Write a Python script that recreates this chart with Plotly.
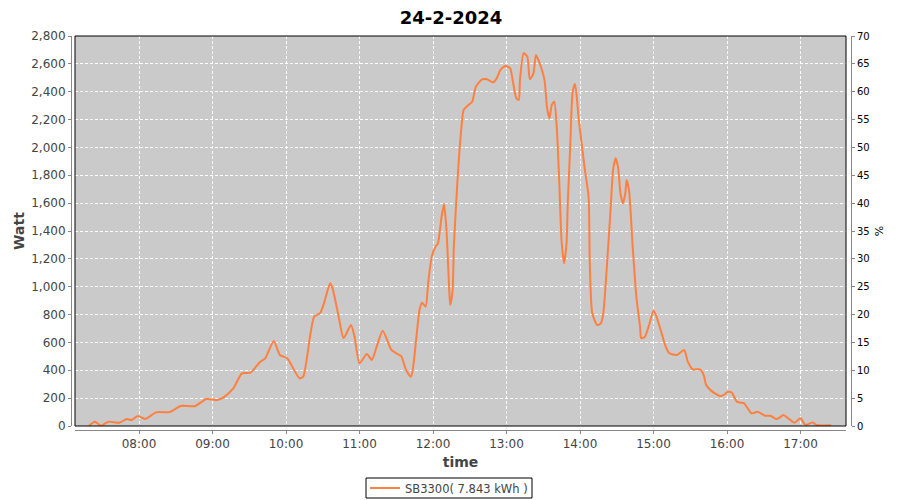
import plotly.graph_objects as go

times = ["07:19","07:24","07:29","07:35","07:44","07:50","07:54","07:59","08:05","08:14",
         "08:25","08:34","08:46","08:55","09:04","09:09","09:17","09:24","09:31","09:39",
         "09:43","09:50","09:55","10:01","10:11","10:14","10:20","10:23","10:28","10:31",
         "10:36","10:38","10:43","10:47","10:53","10:56","11:00","11:06","11:10","11:14",
         "11:19","11:26","11:31","11:34","11:38","11:42","11:44","11:49","11:51","11:54",
         "11:56","11:59","12:02","12:04","12:07","12:09","12:11","12:13","12:14","12:16",
         "12:17","12:20","12:23","12:25","12:29","12:32","12:35","12:40","12:44","12:49",
         "12:52","12:55","12:59","13:03","13:05","13:08","13:10","13:11","13:14","13:17",
         "13:19","13:22","13:24","13:26","13:31","13:33","13:35","13:37","13:39","13:41",
         "13:43","13:45","13:47","13:49","13:50","13:52","13:54","13:56","13:59","14:01",
         "14:04","14:07","14:08","14:10","14:14","14:17","14:19","14:23","14:25","14:27",
         "14:29","14:31","14:33","14:35","14:37","14:38","14:40","14:43","14:46","14:49",
         "14:50","14:53","14:56","15:00","15:02","15:05","15:10","15:13","15:19","15:25",
         "15:28","15:32","15:38","15:41","15:43","15:47","15:54","15:57","16:01","16:04",
         "16:08","16:11","16:14","16:20","16:25","16:31","16:36","16:40","16:43","16:46",
         "16:50","16:55","17:00","17:04","17:10","17:13","17:25"]

watt = [0,31,2,31,24,50,43,72,50,98,
        100,144,144,194,187,206,270,378,383,462,
        486,610,510,486,342,354,665,785,813,881,
        1024,988,785,630,725,641,450,517,474,570,
        684,546,517,503,402,354,438,833,885,857,
        1024,1216,1287,1311,1503,1594,1407,1024,869,976,
        1287,1766,2125,2269,2305,2328,2436,2489,2489,2467,
        2496,2556,2585,2568,2484,2353,2340,2484,2676,2652,
        2489,2532,2664,2628,2484,2292,2209,2305,2328,2149,
        1766,1323,1168,1311,1599,2005,2400,2455,2197,2053,
        1838,1646,1168,809,725,737,809,1287,1563,1838,
        1922,1862,1671,1599,1671,1766,1694,1287,928,713,
        630,641,713,828,797,713,569,522,510,546,
        462,407,407,366,294,254,215,222,246,239,
        175,167,163,91,103,74,72,50,60,79,
        55,24,55,7,26,7,5]

series_name = "SB3300( 7.843 kWh )"
chart_title = "24-2-2024"
day = "2024-02-24"
x_range = ["2024-02-24 07:07:45", "2024-02-24 17:37:08"]
watt_range = [0, 2800]
pct_range = [0, 70]

x = [f"{day} {t}" for t in times]

FONT = "DejaVu Sans"
axis_gray = "#888888"
tick_col = "#444444"

# the page body adds an 8px offset; the figure is sized so it fits the window
OFF = 8
W, H = 892, 492
ML, MT = 63, 28
PW, PH = 780, 394
MR = W - ML - PW
MB = H - MT - PH


def px_x(page_x):
    return (page_x - OFF - ML) / PW


def px_y(page_y):
    return (MT + PH - (page_y - OFF)) / PH


fig = go.Figure()
fig.add_trace(go.Scatter(
    x=x, y=watt, mode="lines", name=series_name,
    line=dict(color="#ff7f3f", width=2, shape="spline", smoothing=0.6),
))
fig.add_trace(go.Scatter(x=[None], y=[None], yaxis="y2", showlegend=False,
                         hoverinfo="skip", mode="lines"))

fig.update_layout(
    width=W, height=H,
    margin=dict(l=ML, r=MR, t=MT, b=MB, autoexpand=False),
    paper_bgcolor="white",
    plot_bgcolor="#cacaca",
    font=dict(family=FONT, size=11, color=tick_col),
    title=dict(text=chart_title, x=(451 - OFF) / W, xanchor="center", y=1 - 10 / H,
               yanchor="middle", yref="container",
               font=dict(family=FONT, size=18, color="black", weight="bold")),
    xaxis=dict(
        domain=[4 / PW, 775 / PW], anchor="free", position=0, automargin=False,
        type="date", range=x_range, tickformat="%H:%M",
        dtick=3600000, tick0="2024-02-24 08:00",
        showgrid=True, gridcolor="white", griddash="3px,2px", gridwidth=1,
        showline=True, linecolor=axis_gray, linewidth=1,
        ticks="outside", ticklen=3, tickcolor=axis_gray,
        tickfont=dict(family=FONT, size=12, color=tick_col),
        title=dict(text="time", standoff=6,
                   font=dict(family=FONT, size=14, color=tick_col, weight="bold")),
        zeroline=False,
    ),
    yaxis=dict(
        domain=[4 / PH, 1], anchor="free", position=0, automargin=False,
        range=watt_range, dtick=200, tickformat=",",
        showgrid=True, gridcolor="white", griddash="3px,2px", gridwidth=1,
        showline=True, linecolor=axis_gray, linewidth=1,
        ticks="outside", ticklen=3, tickcolor=axis_gray,
        tickfont=dict(family=FONT, size=12, color=tick_col),
        title=dict(text="Watt", standoff=2,
                   font=dict(family=FONT, size=14, color=tick_col, weight="bold")),
        zeroline=False,
    ),
    yaxis2=dict(
        overlaying="y", side="right", anchor="free", position=1, automargin=False,
        range=pct_range, dtick=5,
        showgrid=False, showline=True, linecolor=axis_gray, linewidth=1,
        ticks="outside", ticklen=3, tickcolor=axis_gray,
        tickfont=dict(family=FONT, size=10, color="black"),
        title=dict(text="%", standoff=6,
                   font=dict(family=FONT, size=11, color="black")),
        zeroline=False,
    ),
    legend=dict(orientation="h", x=(449 - OFF) / W, xanchor="center", xref="container",
                y=1 - (488 - OFF) / H, yanchor="middle", yref="container",
                borderwidth=0, bgcolor="rgba(0,0,0,0)",
                font=dict(family=FONT, size=11.5, color=tick_col),
                itemwidth=30),
    showlegend=True,
)

# plot frame
fig.add_shape(type="rect", xref="x domain", yref="y domain",
              x0=0, x1=1, y0=0, y1=1, line=dict(color="black", width=1),
              layer="above")
# legend frame
fig.add_shape(type="rect", xref="paper", yref="paper",
              x0=px_x(366), x1=px_x(532), y0=px_y(498), y1=px_y(478),
              line=dict(color="black", width=1), fillcolor="white", layer="below")

fig.write_html("out.html")
